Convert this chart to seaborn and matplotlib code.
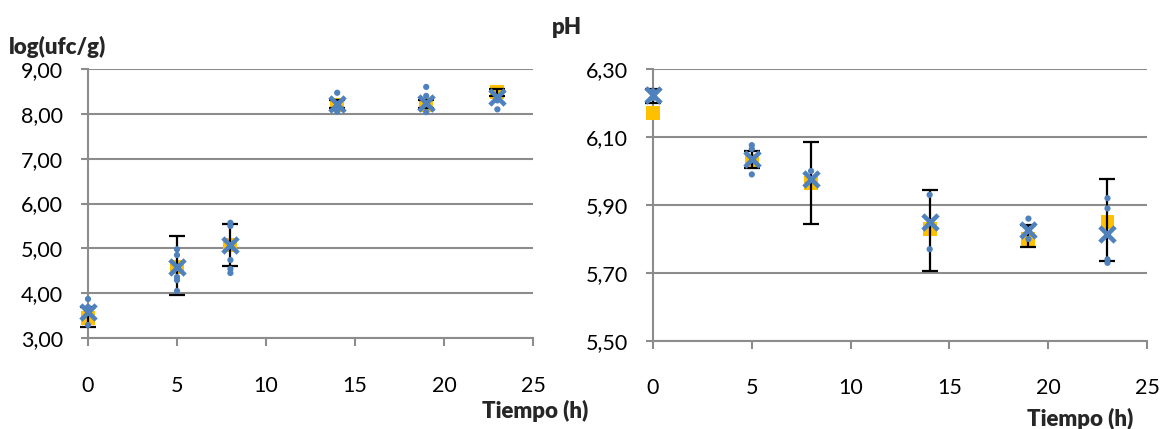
import matplotlib
matplotlib.use("Agg")
import matplotlib.pyplot as plt
import seaborn as sns
import pandas as pd
import numpy as np

# ---------------- data ----------------
time_h = [0, 5, 8, 14, 19, 23]

# log(ufc/g)
ufc_mean_sq = [3.45, 4.58, 5.08, 8.20, 8.20, 8.49]
ufc_mean_x = [3.57, 4.58, 5.07, 8.21, 8.24, 8.38]
ufc_err_low = [3.25, 3.96, 4.61, 8.12, 8.12, 8.40]
ufc_err_high = [3.70, 5.27, 5.54, 8.30, 8.30, 8.55]
ufc_rep_t = [0, 0, 0, 5, 5, 5, 5, 5, 8, 8, 8, 8, 8, 14, 14, 14, 19, 19, 19, 23, 23]
ufc_rep_v = [3.87, 3.69, 3.29, 4.98, 4.85, 4.36, 4.29, 4.05,
             5.57, 5.50, 4.74, 4.54, 4.45, 8.47, 8.10, 8.05,
             8.60, 8.40, 8.04, 8.30, 8.10]

# pH
ph_mean_sq = [6.17, 6.03, 5.965, 5.83, 5.80, 5.85]
ph_mean_x = [6.224, 6.035, 5.975, 5.85, 5.826, 5.815]
ph_err_low = [6.20, 6.01, 5.845, 5.706, 5.775, 5.735]
ph_err_high = [6.24, 6.06, 6.085, 5.944, 5.84, 5.975]
ph_rep_t = [0, 0, 5, 5, 5, 8, 14, 14, 19, 19, 23, 23, 23, 23]
ph_rep_v = [6.235, 6.215, 6.076, 6.065, 5.99, 6.00, 5.93, 5.77,
            5.86, 5.80, 5.92, 5.89, 5.74, 5.73]

ufc_yticks = [3, 4, 5, 6, 7, 8, 9]
ph_yticks = [5.5, 5.7, 5.9, 6.1, 6.3]
xticks = [0, 5, 10, 15, 20, 25]

BLUE = "#4F81BD"
YELLOW = "#FFC000"
GRID = "#8C8C8C"

sns.set_theme(style="white")
plt.rcParams["font.family"] = ["Lato", "DejaVu Sans"]

fig = plt.figure(figsize=(11.62, 4.29), dpi=100)
axL = fig.add_axes([88 / 1162, 1 - 338 / 429, 445 / 1162, 269 / 429])
axR = fig.add_axes([653 / 1162, 1 - 341 / 429, 494 / 1162, 272 / 429])


def draw(ax, sq, xm, lo, hi, rt, rv, ylim, yticks):
    lo = np.array(lo)
    hi = np.array(hi)
    mid = (lo + hi) / 2
    eb = ax.errorbar(time_h, mid, yerr=(hi - lo) / 2, fmt="none", ecolor="black",
                     elinewidth=1.6, capsize=6, capthick=1.6, zorder=3)
    for art in eb.lines[1] + eb.lines[2]:
        art.set_clip_on(False)
    sns.scatterplot(x=time_h, y=sq, ax=ax, marker="s", s=100, color=YELLOW,
                    edgecolor="none", zorder=2, legend=False, clip_on=False)
    sns.scatterplot(x=time_h, y=xm, ax=ax, marker="x", s=120, color=BLUE,
                    linewidth=3.3, zorder=4, legend=False, clip_on=False)
    sns.scatterplot(x=rt, y=rv, ax=ax, marker="o", s=20, color=BLUE,
                    edgecolor="none", zorder=5, legend=False, clip_on=False)
    ax.set_xlim(0, 25)
    ax.set_ylim(*ylim)
    ax.set_xticks(xticks)
    ax.set_yticks(yticks)
    ax.set_yticklabels([f"{v:.2f}".replace(".", ",") for v in yticks])
    ax.set_xticklabels([str(v) for v in xticks])
    ax.yaxis.grid(True, color=GRID, linewidth=1.5)
    ax.xaxis.grid(False)
    ax.set_axisbelow(True)
    for s in ["top", "right"]:
        ax.spines[s].set_visible(False)
    for s in ["left", "bottom"]:
        ax.spines[s].set_color(GRID)
        ax.spines[s].set_linewidth(1.5)
    ax.tick_params(axis="y", which="both", left=True, length=5, width=1.5,
                   color=GRID, pad=13, labelsize=15.5, labelcolor="black")
    ax.tick_params(axis="x", which="both", bottom=True, length=6, width=1.5,
                   color=GRID, pad=21, labelsize=15.5, labelcolor="black")
    ax.set_xlabel("")
    ax.set_ylabel("")
    for sp in ax.spines.values():
        sp.set_zorder(1)


draw(axL, ufc_mean_sq, ufc_mean_x, ufc_err_low, ufc_err_high,
     ufc_rep_t, ufc_rep_v, (3, 9), ufc_yticks)
draw(axR, ph_mean_sq, ph_mean_x, ph_err_low, ph_err_high,
     ph_rep_t, ph_rep_v, (5.5, 6.3), ph_yticks)

lab = dict(fontsize=16, fontweight="heavy")
fig.text(9 / 1162, 1 - 47 / 429, "log(ufc/g)", ha="left", va="center", **lab)
fig.text(552 / 1162, 1 - 27 / 429, "pH", ha="left", va="center", **lab)
fig.text(535 / 1162, 1 - 411 / 429, "Tiempo (h)", ha="center", va="center", **lab)
fig.text(1080 / 1162, 1 - 419 / 429, "Tiempo (h)", ha="center", va="center", **lab)

fig.savefig("out.png", dpi=100)
